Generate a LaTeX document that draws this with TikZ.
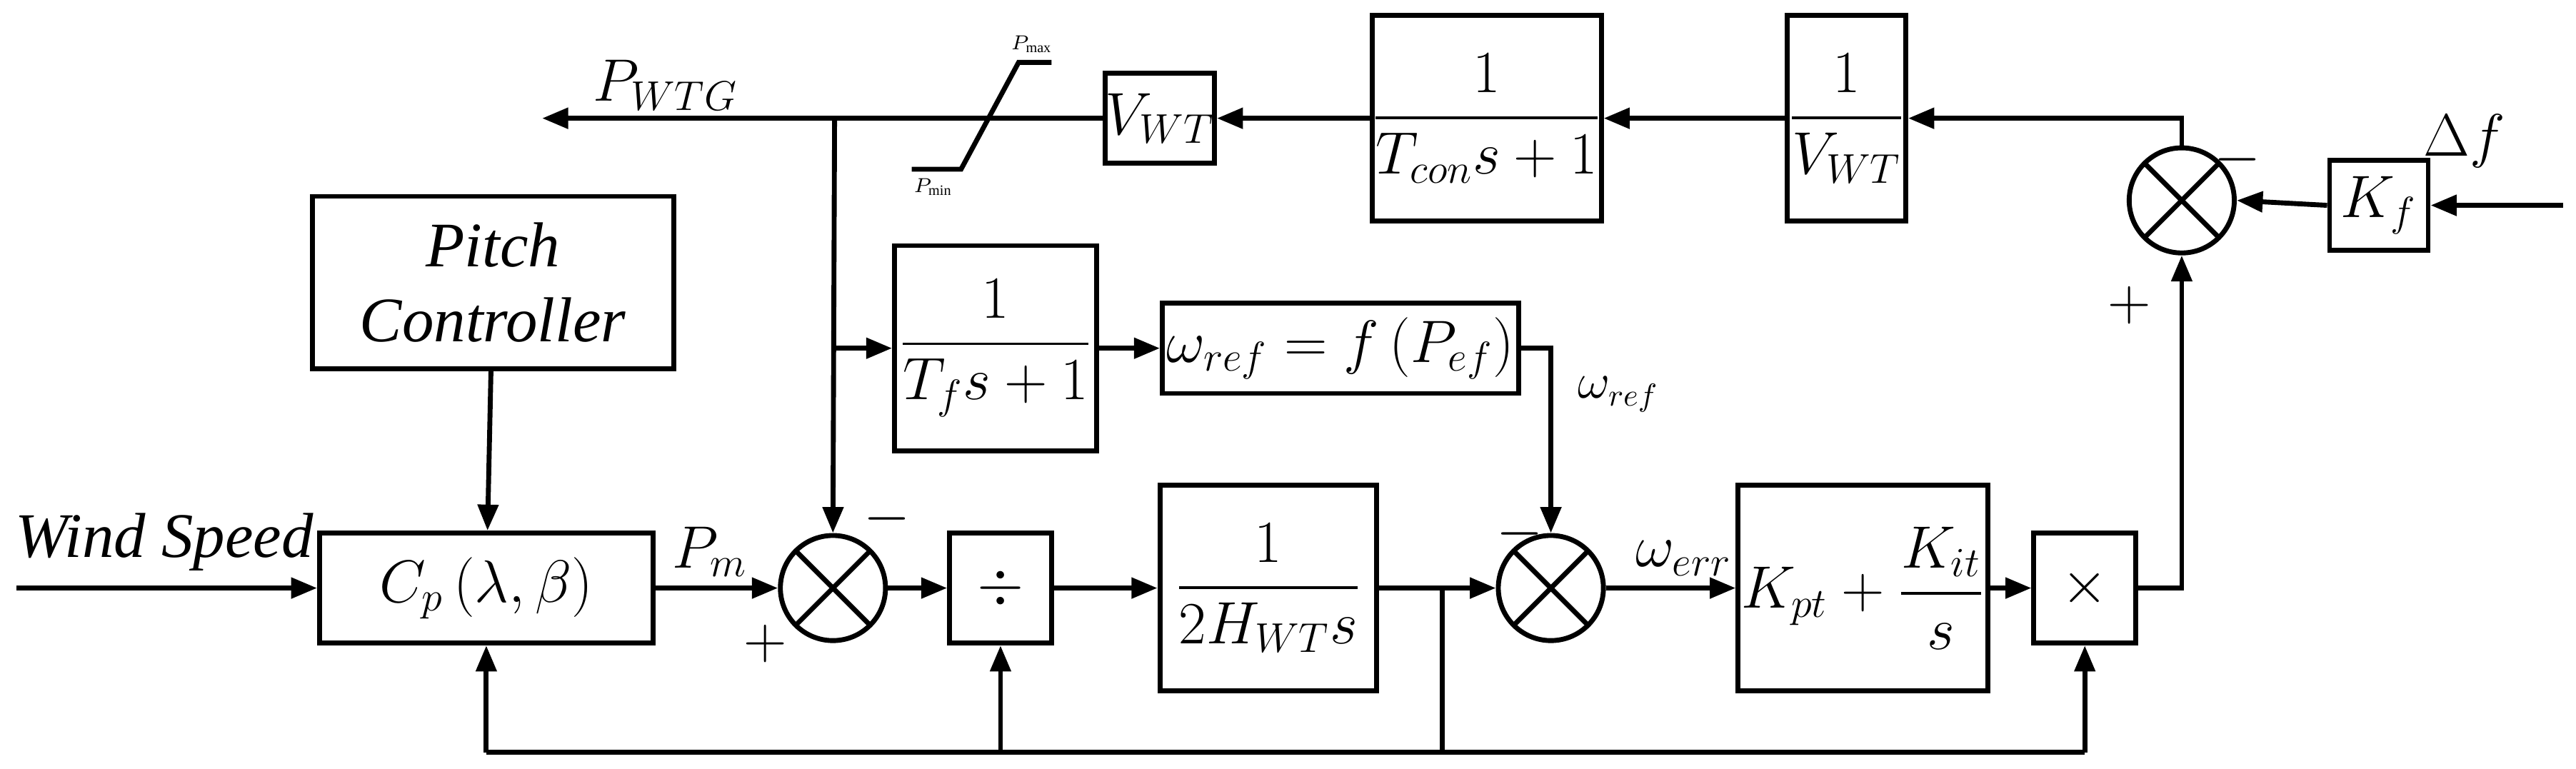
\documentclass[tikz,border=0pt]{standalone}
\usepackage{amsmath}
\usepackage{fontspec}
\setmainfont{Liberation Serif}
\usetikzlibrary{arrows.meta}
\begin{document}
\begin{tikzpicture}[x=0.02cm,y=-0.02cm,line width=1.7pt,
 >={Triangle[length=9pt,width=7pt]},
 blk/.style={draw,inner sep=0pt,font=\fontsize{22}{26}\selectfont},
 sm/.style={draw,circle,minimum size=1.28cm,inner sep=0pt,path picture={
   \draw[line width=1.7pt] (path picture bounding box.north west)--(path picture bounding box.south east)
   (path picture bounding box.north east)--(path picture bounding box.south west);}},
 lab/.style={font=\fontsize{22}{26}\selectfont}]
\fill[white] (0,0) rectangle (1568,468);
\useasboundingbox (0,0) rectangle (1568,468);
\node[blk,minimum width=4.4cm,minimum height=2.1cm,align=center] (pc) at (300,172) {\textit{Pitch}\\\textit{Controller}};
\node[blk,minimum width=4.06cm,minimum height=1.34cm] (cp) at (296,358) {$C_p\left(\lambda,\beta\right)$};
\node[sm] (s1) at (507,358) {};
\node[blk,minimum width=1.24cm,minimum height=1.34cm] (dv) at (609,358) {$\div$};
\node[blk,minimum width=2.64cm,minimum height=2.5cm] (h) at (772,358) {$\dfrac{1}{2H_{WT}s}$};
\node[sm] (s2) at (944,358) {};
\node[blk,minimum width=3.04cm,minimum height=2.5cm] (pi) at (1134,358) {$K_{pt}+\dfrac{K_{it}}{s}$};
\node[blk,minimum width=1.24cm,minimum height=1.34cm] (mu) at (1269,358) {$\times$};
\node[sm] (s3) at (1328,122) {};
\node[blk,minimum width=1.2cm,minimum height=1.1cm] (kf) at (1448,125) {$K_f$};
\node[blk,minimum width=1.44cm,minimum height=2.5cm] (iv) at (1124,72) {$\dfrac{1}{V_{WT}}$};
\node[blk,minimum width=2.6cm,minimum height=2.5cm] (tc) at (905,72) {$\dfrac{1}{T_{con}s+1}$};
\node[blk,minimum width=1.26cm,minimum height=1.1cm] (vw) at (706,72) {$V_{WT}$};
\node[blk,minimum width=2.46cm,minimum height=2.5cm] (tf) at (606,212) {$\dfrac{1}{T_fs+1}$};
\node[blk,minimum width=4.34cm,minimum height=1.1cm] (wr) at (816,212) {$\omega_{ref}=f\left(P_{ef}\right)$};
% labels
\node[lab,anchor=west] (ws) at (2,330) {\textit{Wind Speed}};
\node[lab] (pm) at (432,336) {$P_m$};
\node[lab] (m1) at (540,316) {$-$};
\node[lab] (p1) at (466,392) {$+$};
\node[lab] (m2) at (925,325) {$-$};
\node[lab] (we) at (1025,340) {$\omega_{err}$};
\node[lab] (wrl) at (985,240) {\fontsize{16}{18}\selectfont$\omega_{ref}$};
\node[lab] (p3) at (1296,186) {$+$};
\node[lab] (m3) at (1362,97) {$-$};
\node[lab] (df) at (1500,86) {$\Delta f$};
\node[lab] (pw) at (405,52) {$P_{WTG}$};
\node (pmax) at (628,27) {\scriptsize$P_{\max}$};
\node (pmin) at (568,114) {\scriptsize$P_{\min}$};
% saturation
\coordinate (sa) at (555,103); \coordinate (sb) at (585,103);
\coordinate (sc) at (620,38); \coordinate (sd) at (640,38);
\draw (sa)--(sb)--(sc)--(sd);
% connections
\coordinate (wsin) at (10,358);
\draw[->] (wsin)--(cp.west);
\draw[->] (pc)--(cp);
\draw[->] (cp.east)--(s1.west);
\draw[->] (s1.east)--(dv.west);
\draw[->] (dv.east)--(h.west);
\draw[->] (h.east)--(s2.west);
\draw[->] (s2.east)--(pi.west);
\draw[->] (pi.east)--(mu.west);
\draw[->] (mu.east)-|(s3.south);
\coordinate (dfin) at (1560,125);
\draw[->] (dfin)--(kf.east);
\draw[->] (kf.west)--(s3.east);
\draw[->] (s3.north)|-(iv.east);
\draw[->] (iv.west)--(tc.east);
\draw[->] (tc.west)--(vw.east);
\coordinate (so) at (330,72);
\draw[->] (vw.west)--(so);
\coordinate (br) at (508,72);
\draw[->] (br)--(s1.north);
\coordinate (br2) at (508,212);
\draw[->] (br2)--(tf.west);
\draw[->] (tf.east)--(wr.west);
\draw[->] (wr.east)-|(s2.north);
\coordinate (fj) at (878,358);
\coordinate (fb) at (878,458);
\coordinate (fl) at (296,458);
\coordinate (fr) at (1269,458);
\draw (fj)--(fb);
\draw (fl)--(fr);
\draw[->] (fl)--(cp.south);
\draw[->] (609,458)--(dv.south);
\draw[->] (fr)--(mu.south);
\end{tikzpicture}
\end{document}
